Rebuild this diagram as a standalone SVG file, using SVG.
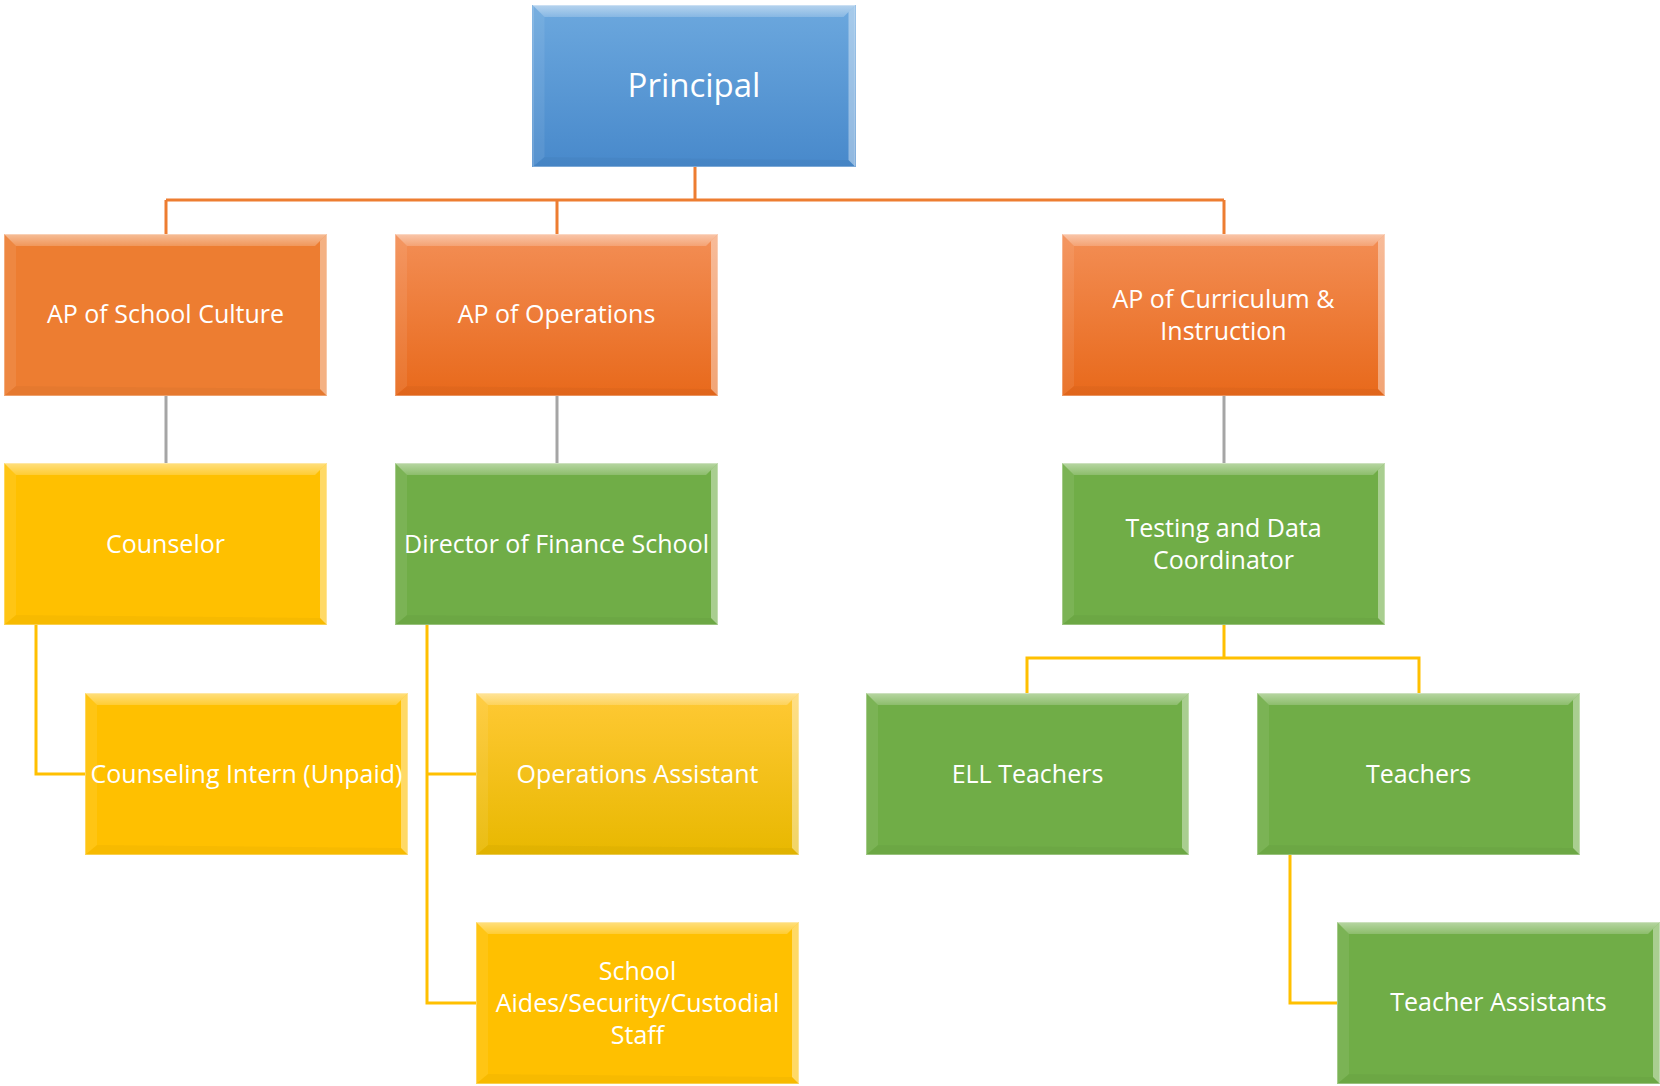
<svg xmlns="http://www.w3.org/2000/svg" xmlns:xlink="http://www.w3.org/1999/xlink" width="1660" height="1086" viewBox="0 0 1660 1086">
<style>
  .lbl { font-family: "Open Sans", "Liberation Sans", sans-serif; font-size: 25px; fill: #ffffff; text-anchor: middle; }
  .big { font-size: 33px; }
  .conn { fill: none; stroke-width: 3; stroke-linejoin: miter; }
  .orange { stroke: #ED7D31; }
  .gray { stroke: #A5A5A5; }
  .yellow { stroke: #FFC000; }
  .edge { fill: none; stroke: #ffffff; stroke-opacity: 0.3; stroke-width: 1; }
</style>
<defs>
  <linearGradient id="gBlue" x1="0" y1="0" x2="0" y2="1">
    <stop offset="0" stop-color="#6CA8DE"/>
    <stop offset="1" stop-color="#4889CB"/>
  </linearGradient>
  <linearGradient id="gOrange" x1="0" y1="0" x2="0" y2="1">
    <stop offset="0" stop-color="#F38E55"/>
    <stop offset="1" stop-color="#E8691B"/>
  </linearGradient>
  <linearGradient id="gYellow" x1="0" y1="0" x2="0" y2="1">
    <stop offset="0" stop-color="#FFC935"/>
    <stop offset="1" stop-color="#E8B800"/>
  </linearGradient>
  <linearGradient id="gTop" x1="0" y1="0" x2="0" y2="1">
    <stop offset="0" stop-color="#ffffff" stop-opacity="0.5"/>
    <stop offset="1" stop-color="#ffffff" stop-opacity="0.2"/>
  </linearGradient>
  <g id="bevel">
    <polygon points="0,0 323,0 311,12 12,12" fill="url(#gTop)"/>
    <polygon points="323,0 323,162 316,155 316,7" fill="#ffffff" fill-opacity="0.4"/>
    <polygon points="0,0 12,12 12,152 0,162" fill="#ffffff" fill-opacity="0.08"/>
    <polygon points="0,162 12,152 316,155 323,162" fill="#000000" fill-opacity="0.03"/>
    <rect x="0.5" y="0.5" width="322" height="161" class="edge"/>
  </g>
</defs>
<rect width="1660" height="1086" fill="#ffffff"/>

<g id="connectors">
  <path class="conn orange" d="M695,167 V200 M166,200 H1224 M166,200 V234 M557,200 V234 M1224,200 V234"/>
  <path class="conn gray" d="M166,396 V463 M557,396 V463 M1224,396 V464"/>
  <path class="conn yellow" d="M36,625 V774 H85"/>
  <path class="conn yellow" d="M427,625 V1003 H476 M427,774 H476"/>
  <path class="conn yellow" d="M1224,625 V658 H1027 V693 M1224,658 H1419 V693"/>
  <path class="conn yellow" d="M1290,855 V1003 H1338"/>
</g>

<g id="principal">
  <rect x="532" y="5" width="324" height="162" fill="url(#gBlue)"/>
  <use xlink:href="#bevel" transform="translate(532.5,5)"/>
  <text class="lbl big" x="694" y="97">Principal</text>
</g>

<g id="ap-school-culture">
  <rect x="4" y="234" width="323" height="162" fill="#ED7D31"/>
  <use xlink:href="#bevel" transform="translate(4,234)"/>
  <text class="lbl" x="165.5" y="323">AP of School Culture</text>
</g>

<g id="ap-operations">
  <rect x="395" y="234" width="323" height="162" fill="url(#gOrange)"/>
  <use xlink:href="#bevel" transform="translate(395,234)"/>
  <text class="lbl" x="556.5" y="323">AP of Operations</text>
</g>

<g id="ap-curriculum">
  <rect x="1062" y="234" width="323" height="162" fill="url(#gOrange)"/>
  <use xlink:href="#bevel" transform="translate(1062,234)"/>
  <text class="lbl" x="1223.5" y="308">AP of Curriculum &amp;</text>
  <text class="lbl" x="1223.5" y="340">Instruction</text>
</g>

<g id="counselor">
  <rect x="4" y="463" width="323" height="162" fill="#FFC000"/>
  <use xlink:href="#bevel" transform="translate(4,463)"/>
  <text class="lbl" x="165.5" y="553">Counselor</text>
</g>

<g id="director-finance">
  <rect x="395" y="463" width="323" height="162" fill="#70AD47"/>
  <use xlink:href="#bevel" transform="translate(395,463)"/>
  <text class="lbl" x="556.5" y="553">Director of Finance School</text>
</g>

<g id="testing-data">
  <rect x="1062" y="463" width="323" height="162" fill="#70AD47"/>
  <use xlink:href="#bevel" transform="translate(1062,463)"/>
  <text class="lbl" x="1223.5" y="537">Testing and Data</text>
  <text class="lbl" x="1223.5" y="569">Coordinator</text>
</g>

<g id="counseling-intern">
  <rect x="85" y="693" width="323" height="162" fill="#FFC000"/>
  <use xlink:href="#bevel" transform="translate(85,693)"/>
  <text class="lbl" x="246.5" y="783">Counseling Intern (Unpaid)</text>
</g>

<g id="operations-assistant">
  <rect x="476" y="693" width="323" height="162" fill="url(#gYellow)"/>
  <use xlink:href="#bevel" transform="translate(476,693)"/>
  <text class="lbl" x="637.5" y="783">Operations Assistant</text>
</g>

<g id="ell-teachers">
  <rect x="866" y="693" width="323" height="162" fill="#70AD47"/>
  <use xlink:href="#bevel" transform="translate(866,693)"/>
  <text class="lbl" x="1027.5" y="783">ELL Teachers</text>
</g>

<g id="teachers">
  <rect x="1257" y="693" width="323" height="162" fill="#70AD47"/>
  <use xlink:href="#bevel" transform="translate(1257,693)"/>
  <text class="lbl" x="1418.5" y="783">Teachers</text>
</g>

<g id="school-aides">
  <rect x="476" y="922" width="323" height="162" fill="#FFC000"/>
  <use xlink:href="#bevel" transform="translate(476,922)"/>
  <text class="lbl" x="637.5" y="980">School</text>
  <text class="lbl" x="637.5" y="1012">Aides/Security/Custodial</text>
  <text class="lbl" x="637.5" y="1044">Staff</text>
</g>

<g id="teacher-assistants">
  <rect x="1337" y="922" width="323" height="162" fill="#70AD47"/>
  <use xlink:href="#bevel" transform="translate(1337,922)"/>
  <text class="lbl" x="1498.5" y="1011">Teacher Assistants</text>
</g>
</svg>
